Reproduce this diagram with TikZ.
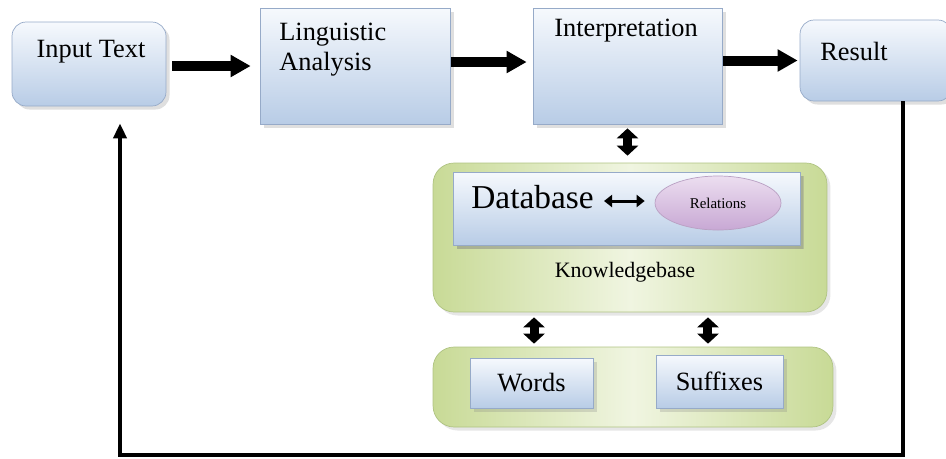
\documentclass[tikz,border=0pt]{standalone}
\usepackage{fontspec}
\setmainfont{Liberation Serif}
\usetikzlibrary{arrows.meta,positioning,shadows,shapes.geometric}

\definecolor{boxtop}{RGB}{246,249,253}
\definecolor{boxbot}{RGB}{184,204,230}
\definecolor{boxline}{RGB}{150,170,200}
\definecolor{kbedge}{RGB}{200,218,150}
\definecolor{kbmid}{RGB}{240,245,225}
\definecolor{kbline}{RGB}{175,195,130}
\definecolor{reltop}{RGB}{236,222,240}
\definecolor{relbot}{RGB}{200,168,212}

\tikzset{
  procbox/.style={draw=boxline, top color=boxtop, bottom color=boxbot,
    drop shadow={opacity=0.25, shadow xshift=2pt, shadow yshift=-2pt}},
  roundbox/.style={procbox, rounded corners=8pt},
  kbbox/.style={draw=kbline, left color=kbedge, right color=kbedge, middle color=kbmid,
    rounded corners=12pt, drop shadow={opacity=0.2, shadow xshift=2pt, shadow yshift=-2pt}},
  relshape/.style={ellipse, draw=relbot!80!gray, top color=reltop, bottom color=relbot},
  bigarrow/.style={line width=0.2cm, -{Triangle[length=0.4cm,width=0.42cm]}},
  dblarrow/.style={line width=0.18cm, {Triangle[length=0.2cm,width=0.42cm]}-{Triangle[length=0.2cm,width=0.42cm]}},
  smallarrow/.style={line width=0.06cm, {Triangle[length=0.16cm,width=0.24cm]}-{Triangle[length=0.16cm,width=0.24cm]}},
  fbarrow/.style={line width=0.08cm, -{Triangle[length=0.3cm,width=0.26cm]}}
}

\begin{document}
\begin{tikzpicture}[x=0.02cm, y=-0.02cm, font=\fontsize{15}{17}\selectfont]
  \useasboundingbox (0,0) rectangle (946,458);

  % main chain
  \node[roundbox, minimum width=3.08cm, minimum height=1.68cm] (intext) at (89,64) {};
  \node[procbox, minimum width=3.8cm, minimum height=2.32cm] (ling) at (355,66) {};
  \node[procbox, minimum width=3.78cm, minimum height=2.32cm] (interp) at (627.5,66) {};
  \node[roundbox, minimum width=3.04cm, minimum height=1.62cm] (result) at (876,60.5) {};

  \node (intextlbl) at (91,52) {Input Text};
  \node[anchor=north west, align=left, inner sep=0pt] (linglbl) at (279,23) {Linguistic\\Analysis};
  \node (interplbl) at (626,31) {Interpretation};
  \node[anchor=west, inner sep=0pt] (resultlbl) at (820,51) {Result};

  % knowledge base
  \node[kbbox, minimum width=7.88cm, minimum height=2.98cm] (kb) at (630,237.5) {};
  \node[procbox, drop shadow={opacity=0.3}, minimum width=6.94cm, minimum height=1.46cm] (db) at (626.5,208.5) {};
  \node[anchor=west, inner sep=0pt, font=\fontsize{19}{21}\selectfont] (dblbl) at (471,197) {Database};
  \node[relshape, minimum width=2.52cm, minimum height=1.08cm, inner sep=0pt,
    font=\fontsize{8.5}{10}\selectfont] (rel) at (718,203) {Relations};
  \node[font=\fontsize{12.5}{14}\selectfont] (kblbl) at (625,272) {Knowledgebase};

  % lexicon
  \node[kbbox, minimum width=8.0cm, minimum height=1.6cm] (lex) at (633,387) {};
  \node[procbox, minimum width=2.46cm, minimum height=1.0cm] (words) at (531.5,383) {Words};
  \node[procbox, minimum width=2.54cm, minimum height=1.06cm] (suff) at (719.5,381.5) {Suffixes};

  \coordinate (fbleft) at (120,455);

  % connectors
  \draw[bigarrow, shorten <=0.12cm, shorten >=0.18cm] ([yshift=-0.04cm]intext.east) -- ([yshift=-0.04cm]intext.east -| ling.west);
  \draw[bigarrow, shorten <=0.02cm, shorten >=0.12cm] ([yshift=0.08cm]ling.east) -- ([yshift=0.08cm]interp.west);
  \draw[bigarrow, shorten <=0.02cm, shorten >=0.04cm] (interp.east |- result.west) -- (result.west);
  \draw[dblarrow, shorten <=0.08cm, shorten >=0.14cm] (interp.south) -- (interp.south |- kb.north);
  \draw[smallarrow, shorten <=0.2cm, shorten >=0.2cm] ([yshift=-0.08cm]dblbl.east) -- ([yshift=-0.08cm]dblbl.east -| rel.west);
  \draw[dblarrow, shorten <=0.1cm, shorten >=0.06cm] ([xshift=-1.92cm]kb.south) -- ([xshift=-1.92cm]kb.south |- lex.north);
  \draw[dblarrow, shorten <=0.1cm, shorten >=0.06cm] ([xshift=1.56cm]kb.south) -- ([xshift=1.56cm]kb.south |- lex.north);
  \draw[fbarrow, shorten >=0.34cm] ([xshift=0.54cm]result.south) |- (fbleft) -- (fbleft |- intext.south);
\end{tikzpicture}
\end{document}
